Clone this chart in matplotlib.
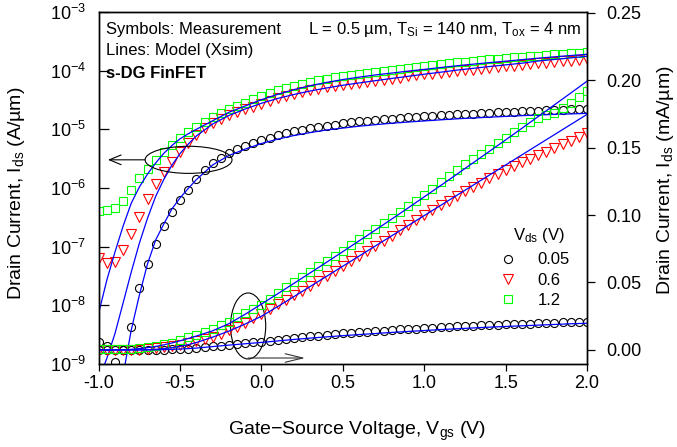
import numpy as np
import matplotlib
matplotlib.use('Agg')
import matplotlib.pyplot as plt
from matplotlib.patches import Ellipse
from matplotlib.lines import Line2D

plt.rcParams['font.family'] = ['Liberation Sans', 'DejaVu Sans']
plt.rcParams['mathtext.fontset'] = 'custom'
plt.rcParams['mathtext.rm'] = 'Liberation Sans'
plt.rcParams['mathtext.it'] = 'Liberation Sans:italic'
plt.rcParams['mathtext.bf'] = 'Liberation Sans:bold'
plt.rcParams['axes.unicode_minus'] = False

# measured sweep, Vgs from -1.0 to 2.0 V in 0.05 V steps
vgs = np.linspace(-1.0, 2.0, 61)

# measured Ids (A/um), log axis
ids_log_005 = [2.4e-9, 2.0e-9, 1.1e-9, 1.7e-9, 4.2e-9, 2.0e-8, 5.0e-8, 1.11e-7, 2.25e-7, 3.95e-7,
               6.25e-7, 9.4e-7, 1.45e-6, 2.03e-6, 2.64e-6, 3.21e-6, 3.91e-6, 4.57e-6, 5.2e-6, 5.92e-6,
               6.45e-6, 7.12e-6, 7.85e-6, 8.49e-6, 9.18e-6, 9.75e-6, 1.033e-5, 1.096e-5, 1.15e-5, 1.205e-5,
               1.257e-5, 1.307e-5, 1.36e-5, 1.40e-5, 1.44e-5, 1.48e-5, 1.52e-5, 1.56e-5, 1.60e-5, 1.64e-5,
               1.67e-5, 1.70e-5, 1.73e-5, 1.77e-5, 1.80e-5, 1.83e-5, 1.85e-5, 1.88e-5, 1.91e-5, 1.94e-5,
               1.98e-5, 2.01e-5, 2.04e-5, 2.07e-5, 2.09e-5, 2.12e-5, 2.14e-5, 2.17e-5, 2.20e-5, 2.22e-5,
               2.25e-5]
ids_log_06 = [6.3e-8, 5.2e-8, 5.5e-8, 8.8e-8, 1.62e-7, 3.24e-7, 6.5e-7, 1.17e-6, 1.85e-6, 2.81e-6,
              4.16e-6, 5.92e-6, 8.0e-6, 1.04e-5, 1.27e-5, 1.48e-5, 1.72e-5, 1.98e-5, 2.20e-5, 2.43e-5,
              2.70e-5, 3.04e-5, 3.36e-5, 3.63e-5, 3.93e-5, 4.25e-5, 4.59e-5, 4.87e-5, 5.17e-5, 5.48e-5,
              5.70e-5, 5.93e-5, 6.17e-5, 6.41e-5, 6.67e-5, 6.93e-5, 7.27e-5, 7.62e-5, 7.96e-5, 8.28e-5,
              8.61e-5, 8.91e-5, 9.2e-5, 9.49e-5, 9.8e-5, 1.011e-4, 1.043e-4, 1.076e-4, 1.11e-4, 1.145e-4,
              1.18e-4, 1.22e-4, 1.26e-4, 1.30e-4, 1.34e-4, 1.37e-4, 1.41e-4, 1.44e-4, 1.48e-4, 1.51e-4,
              1.55e-4]
ids_log_12 = [4.1e-7, 4.2e-7, 4.6e-7, 6.0e-7, 9.2e-7, 1.48e-6, 2.11e-6, 3.0e-6, 4.1e-6, 5.4e-6,
              7.1e-6, 9.0e-6, 1.10e-5, 1.33e-5, 1.62e-5, 1.90e-5, 2.22e-5, 2.50e-5, 2.81e-5, 3.25e-5,
              3.70e-5, 4.16e-5, 4.59e-5, 5.07e-5, 5.48e-5, 5.93e-5, 6.41e-5, 6.8e-5, 7.21e-5, 7.65e-5,
              8.11e-5, 8.43e-5, 8.77e-5, 9.12e-5, 9.48e-5, 9.86e-5, 1.026e-4, 1.067e-4, 1.11e-4, 1.155e-4,
              1.20e-4, 1.25e-4, 1.30e-4, 1.34e-4, 1.38e-4, 1.43e-4, 1.47e-4, 1.52e-4, 1.56e-4, 1.60e-4,
              1.64e-4, 1.68e-4, 1.72e-4, 1.77e-4, 1.81e-4, 1.85e-4, 1.89e-4, 1.94e-4, 1.99e-4, 2.03e-4,
              2.08e-4]

# measured Ids (mA/um), linear axis
ids_lin_005 = [0.0, 0.0, 0.0, 0.0, 0.0, 0.00002, 0.00005, 0.0001, 0.0002, 0.0004,
               0.0006, 0.0009, 0.0014, 0.0020, 0.0026, 0.0032, 0.0039, 0.0045, 0.0051, 0.0057,
               0.0062, 0.0069, 0.0076, 0.0083, 0.0089, 0.0095, 0.0101, 0.0107, 0.0112, 0.0117,
               0.0122, 0.0127, 0.0132, 0.0136, 0.0140, 0.0144, 0.0148, 0.0152, 0.0155, 0.0159,
               0.0162, 0.0165, 0.0168, 0.0171, 0.0174, 0.0177, 0.0179, 0.0182, 0.0184, 0.0187,
               0.0189, 0.0192, 0.0194, 0.0196, 0.0198, 0.0200, 0.0202, 0.0204, 0.0206, 0.0208,
               0.0210]
ids_lin_06 = [0.00006, 0.00005, 0.00006, 0.00009, 0.00016, 0.0003, 0.0007, 0.0012, 0.0019, 0.0028,
              0.0040, 0.0051, 0.0064, 0.0080, 0.0098, 0.0120, 0.0145, 0.0172, 0.0202, 0.0235,
              0.0270, 0.0303, 0.0337, 0.0371, 0.0405, 0.0439, 0.0474, 0.0509, 0.0545, 0.0582,
              0.0620, 0.0658, 0.0696, 0.0734, 0.0772, 0.0810, 0.0848, 0.0886, 0.0924, 0.0962,
              0.1000, 0.1036, 0.1072, 0.1107, 0.1142, 0.1176, 0.1209, 0.1241, 0.1273, 0.1304,
              0.1334, 0.1362, 0.1390, 0.1417, 0.1444, 0.1470, 0.1497, 0.1524, 0.1551, 0.1578,
              0.1605]
ids_lin_12 = [0.0004, 0.0004, 0.0005, 0.0006, 0.0009, 0.0015, 0.0021, 0.0030, 0.0041, 0.0054,
              0.0072, 0.0093, 0.0113, 0.0135, 0.0158, 0.0183, 0.0210, 0.0242, 0.0276, 0.0305,
              0.0333, 0.0374, 0.0419, 0.0463, 0.0504, 0.0541, 0.0581, 0.0622, 0.0659, 0.0696,
              0.0737, 0.0778, 0.0819, 0.0859, 0.0900, 0.0941, 0.0981, 0.1022, 0.1067, 0.1107,
              0.1148, 0.1196, 0.1244, 0.1293, 0.1337, 0.1378, 0.1419, 0.1456, 0.1493, 0.1533,
              0.1574, 0.1615, 0.1652, 0.1689, 0.1719, 0.1741, 0.1759, 0.1793, 0.1830, 0.1878,
              0.1922]

# model (Xsim) curves
vgs_model = [-1.0, -0.95, -0.9, -0.85, -0.8, -0.75, -0.7, -0.65, -0.6, -0.55, -0.5, -0.45, -0.4,
             -0.3, -0.2, -0.1, 0.0, 0.1, 0.2, 0.3, 0.4, 0.5, 0.6, 0.7, 0.8, 0.9, 1.0,
             1.1, 1.2, 1.3, 1.4, 1.5, 1.6, 1.7, 1.8, 1.9, 2.0]
mod_log_005 = [1e-12, 1e-12, 1e-11, 6.5e-10, 3.8e-9, 1.5e-8, 5.1e-8, 1.3e-7, 2.44e-7, 4.4e-7, 6.8e-7, 9.8e-7, 1.39e-6,
               2.47e-6, 3.58e-6, 4.6e-6, 5.74e-6, 6.8e-6, 7.85e-6, 8.8e-6, 9.75e-6, 1.05e-5, 1.13e-5, 1.2e-5, 1.27e-5, 1.33e-5, 1.39e-5,
               1.45e-5, 1.51e-5, 1.56e-5, 1.61e-5, 1.66e-5, 1.71e-5, 1.75e-5, 1.8e-5, 1.83e-5, 1.87e-5]
mod_log_06 = [5.4e-10, 1.25e-9, 3.3e-9, 1.1e-8, 3.7e-8, 1.15e-7, 3.06e-7, 7.2e-7, 1.4e-6, 2.45e-6, 3.87e-6, 5.6e-6, 7.7e-6,
              1.23e-5, 1.72e-5, 2.22e-5, 2.78e-5, 3.36e-5, 3.93e-5, 4.5e-5, 5.07e-5, 5.64e-5, 6.17e-5, 6.75e-5, 7.36e-5, 8.0e-5, 8.7e-5,
              9.4e-5, 1.02e-4, 1.095e-4, 1.175e-4, 1.255e-4, 1.34e-4, 1.46e-4, 1.55e-4, 1.65e-4, 1.76e-4]
mod_log_12 = [7.4e-9, 2.7e-8, 8.1e-8, 2.25e-7, 5.5e-7, 1.04e-6, 1.73e-6, 2.67e-6, 3.9e-6, 5.3e-6, 6.9e-6, 8.4e-6, 1.0e-5,
              1.4e-5, 1.95e-5, 2.5e-5, 3.2e-5, 3.95e-5, 4.75e-5, 5.55e-5, 6.3e-5, 7.05e-5, 7.75e-5, 8.45e-5, 9.1e-5, 9.8e-5, 1.05e-4,
              1.13e-4, 1.21e-4, 1.29e-4, 1.37e-4, 1.45e-4, 1.54e-4, 1.63e-4, 1.72e-4, 1.81e-4, 1.9e-4]
mod_lin_005 = [0, 0, 0, 0, 0, 0.00001, 0.00005, 0.00013, 0.00024, 0.00044, 0.00068, 0.00098, 0.0014,
               0.0025, 0.0036, 0.0046, 0.0056, 0.0067, 0.0078, 0.0088, 0.0097, 0.0106, 0.0114, 0.0122, 0.0130, 0.0137, 0.0144,
               0.0151, 0.0157, 0.0163, 0.0169, 0.0174, 0.0179, 0.0184, 0.0189, 0.0194, 0.0198]
mod_lin_06 = [0, 0, 0, 0.00001, 0.00004, 0.0001, 0.0002, 0.0005, 0.001, 0.0017, 0.0027, 0.0039, 0.0055,
              0.0095, 0.0140, 0.0192, 0.0250, 0.0322, 0.0396, 0.0471, 0.0546, 0.0621, 0.0696, 0.0771, 0.0846, 0.0921, 0.0996,
              0.1071, 0.1146, 0.1221, 0.1296, 0.1371, 0.1446, 0.1521, 0.1596, 0.1671, 0.1746]
mod_lin_12 = [0.00001, 0.00003, 0.00008, 0.0002, 0.0005, 0.001, 0.0017, 0.0026, 0.0038, 0.0052, 0.0068, 0.0085, 0.0103,
              0.0142, 0.0195, 0.0265, 0.0340, 0.0417, 0.0494, 0.0572, 0.0650, 0.0729, 0.0809, 0.0889, 0.0970, 0.1052, 0.1135,
              0.1218, 0.1302, 0.1387, 0.1472, 0.1557, 0.1643, 0.1730, 0.1817, 0.1904, 0.1992]

vds_labels = ['0.05', '0.6', '1.2']

black, red, green, blue = '#000000', '#ff0000', '#00ff00', '#0000ff'

fig = plt.figure(figsize=(6.77, 4.47), dpi=100)
ax = fig.add_axes([0.1458, 0.1857, 0.7213, 0.7875])
ax2 = ax.twinx()

ax.set_yscale('log')
for a, d005, d06, d12, m005, m06, m12 in [
        (ax, ids_log_005, ids_log_06, ids_log_12, mod_log_005, mod_log_06, mod_log_12),
        (ax2, ids_lin_005, ids_lin_06, ids_lin_12, mod_lin_005, mod_lin_06, mod_lin_12)]:
    a.plot(vgs, d005, 'o', mfc='none', mec=black, ms=5.8, mew=0.8)
    a.plot(vgs, d06, 'v', mfc='none', mec=red, ms=6.5, mew=0.8)
    a.plot(vgs, d12, 's', mfc='none', mec=green, ms=5.6, mew=0.8)
    for m in (m005, m06, m12):
        a.plot(vgs_model, m, '-', color=blue, lw=0.9)

ax.set_xlim(-1.0, 2.0)
ax.set_ylim(1e-9, 1e-3)
ax2.set_ylim(-0.0104, 0.2505)
ax.set_xticks([-1.0, -0.5, 0.0, 0.5, 1.0, 1.5, 2.0])
ax.set_xticklabels(['-1.0', '-0.5', '0.0', '0.5', '1.0', '1.5', '2.0'])
ax.yaxis.set_minor_locator(matplotlib.ticker.NullLocator())
ax2.set_yticks([0.0, 0.05, 0.10, 0.15, 0.20, 0.25])
ax2.set_yticklabels(['0.00', '0.05', '0.10', '0.15', '0.20', '0.25'])

ax.tick_params(axis='x', direction='out', length=5, width=0.9, labelsize=13, pad=3)
ax.tick_params(axis='y', direction='in', length=7, width=0.9, labelsize=13, pad=9)
ax2.tick_params(axis='y', direction='out', length=6, width=0.9, labelsize=13, pad=8)
for a in (ax, ax2):
    for s in a.spines.values():
        s.set_linewidth(1.0)

ax.set_xlabel('Gate\u2212Source Voltage, V$_{\\mathrm{gs}}$ (V)', fontsize=14)
ax.set_ylabel('Drain Current, I$_{\\mathrm{ds}}$ (A/\u00b5m)', fontsize=14)
ax2.set_ylabel('Drain Current, I$_{\\mathrm{ds}}$ (mA/\u00b5m)', fontsize=14)
ax.xaxis.set_label_coords(0.53, -0.158)
ax.yaxis.set_label_coords(-0.146, 0.486)
ax2.yaxis.set_label_coords(1.139, 0.521)

ax.text(0.015, 0.938, 'Symbols: Measurement', transform=ax.transAxes, fontsize=12, va='baseline')
ax.text(0.015, 0.877, 'Lines: Model (Xsim)', transform=ax.transAxes, fontsize=12, va='baseline')
ax.text(0.015, 0.8125, 's-DG FinFET', transform=ax.transAxes, fontsize=12, weight='bold', va='baseline')
ax.text(0.989, 0.938, 'L = 0.5 \u00b5m, T$_{\\mathrm{Si}}$ = 140 nm, T$_{\\mathrm{ox}}$ = 4 nm',
        transform=ax.transAxes, fontsize=12, ha='right', va='baseline')

# ellipses + arrows pointing to the axis each family belongs to
ax2.add_patch(Ellipse((0.184, 0.580), 0.178, 0.077, transform=ax.transAxes,
                      fill=False, ec='k', lw=0.8))
ax2.annotate('', xy=(0.019, 0.580), xytext=(0.0948, 0.580), xycoords='axes fraction',
             arrowprops=dict(arrowstyle='->,head_length=0.6,head_width=0.25', lw=0.8,
                             color='k', shrinkA=0, shrinkB=0, mutation_scale=14))
ax2.add_patch(Ellipse((0.306, 0.108), 0.072, 0.1875, transform=ax.transAxes,
                      fill=False, ec='k', lw=0.8))
ax2.annotate('', xy=(0.4225, 0.017), xytext=(0.306, 0.017), xycoords='axes fraction',
             arrowprops=dict(arrowstyle='->,head_length=0.9,head_width=0.22', lw=0.8,
                             color='#333333', shrinkA=0, shrinkB=0, mutation_scale=14))

# legend: title as separate text so it can sit a bit higher
handles = [Line2D([], [], ls='none', marker='o', mfc='none', mec=black, ms=5.8, mew=0.8),
           Line2D([], [], ls='none', marker='v', mfc='none', mec=red, ms=6.5, mew=0.8),
           Line2D([], [], ls='none', marker='s', mfc='none', mec=green, ms=5.6, mew=0.8)]
ax2.legend(handles, vds_labels, loc='center left', bbox_to_anchor=(0.822, 0.2386),
           frameon=False, fontsize=12, handlelength=1.0, handletextpad=1.25,
           labelspacing=0.31, borderpad=0, borderaxespad=0)
ax.text(0.9007, 0.352, 'V$_{\\mathrm{ds}}$ (V)', transform=ax.transAxes, fontsize=12,
        ha='center', va='baseline')

plt.savefig('out.png', dpi=100)
